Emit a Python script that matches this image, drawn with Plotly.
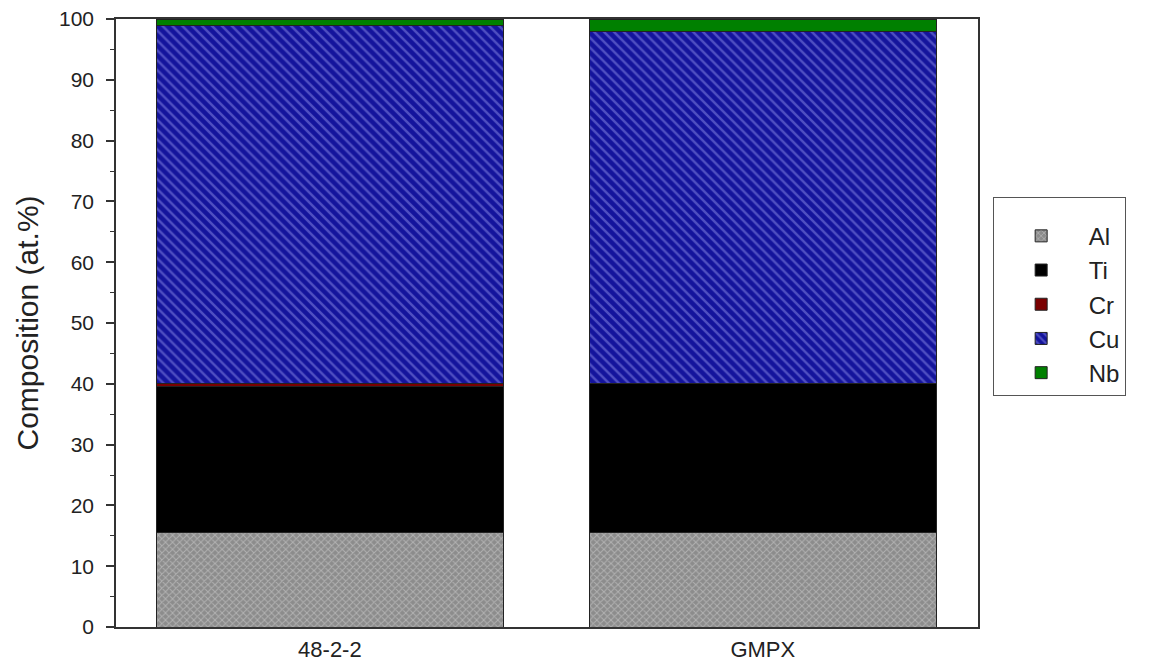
import plotly.graph_objects as go

# Alloy compositions (at.%)
samples = ["48-2-2", "GMPX"]
al = [15.5, 15.6]
ti = [24.0, 24.5]
cr = [0.6, 0.0]
cu = [58.9, 57.8]
nb = [1.0, 2.1]

y_ticks = list(range(0, 101, 10))

styles = {
    "Al": dict(color="#8c8c8c", pattern=dict(shape="x", fgcolor="#d6d6d6", size=5, solidity=0.35)),
    "Ti": dict(color="#000000"),
    "Cr": dict(color="#7a0000"),
    "Cu": dict(color="#14149c", pattern=dict(shape="\\", fgcolor="#8a8ae6", size=7, solidity=0.35)),
    "Nb": dict(color="#008000"),
}

fig = go.Figure()
for name, vals in [("Al", al), ("Ti", ti), ("Cr", cr), ("Cu", cu), ("Nb", nb)]:
    st = styles[name]
    marker = dict(color=st["color"], line=dict(color="#222222", width=1))
    if "pattern" in st:
        marker["pattern"] = dict(fillmode="overlay", **st["pattern"])
    fig.add_trace(go.Bar(x=samples, y=vals, name=name, marker=marker, width=0.8))

fig.update_layout(
    barmode="stack",
    width=1152,
    height=671,
    paper_bgcolor="white",
    plot_bgcolor="white",
    margin=dict(l=116, r=174, t=19, b=44),
    font=dict(family="Liberation Sans, Arial, sans-serif", size=21, color="#222222"),
    showlegend=True,
    legend=dict(
        x=1.017, y=0.707, xanchor="left", yanchor="top",
        traceorder="normal",
        bordercolor="#555555", borderwidth=1,
        font=dict(size=24),
        itemwidth=85,
        title=dict(text=" ", font=dict(size=12)),
    ),
    bargap=0.2,
)

fig.update_xaxes(
    type="category",
    range=[-0.494, 1.497],
    showline=True, linecolor="#333333", linewidth=1.5, mirror=True,
    ticks="", showgrid=False,
    tickfont=dict(size=22),
    ticklabelstandoff=2,
    automargin=False,
)
fig.update_yaxes(
    range=[0, 100],
    tickvals=y_ticks,
    showline=True, linecolor="#333333", linewidth=1.5, mirror=True,
    ticks="outside", ticklen=8, tickwidth=1.5, tickcolor="#333333",
    minor=dict(ticks="outside", ticklen=4, dtick=5, tickcolor="#333333", tickwidth=1.2),
    showgrid=False, zeroline=False,
    title=dict(text="Composition (at.%)", font=dict(size=30), standoff=12),
    tickfont=dict(size=21),
    ticklabelstandoff=8,
    automargin=False,
)

fig.write_html("out.html")
